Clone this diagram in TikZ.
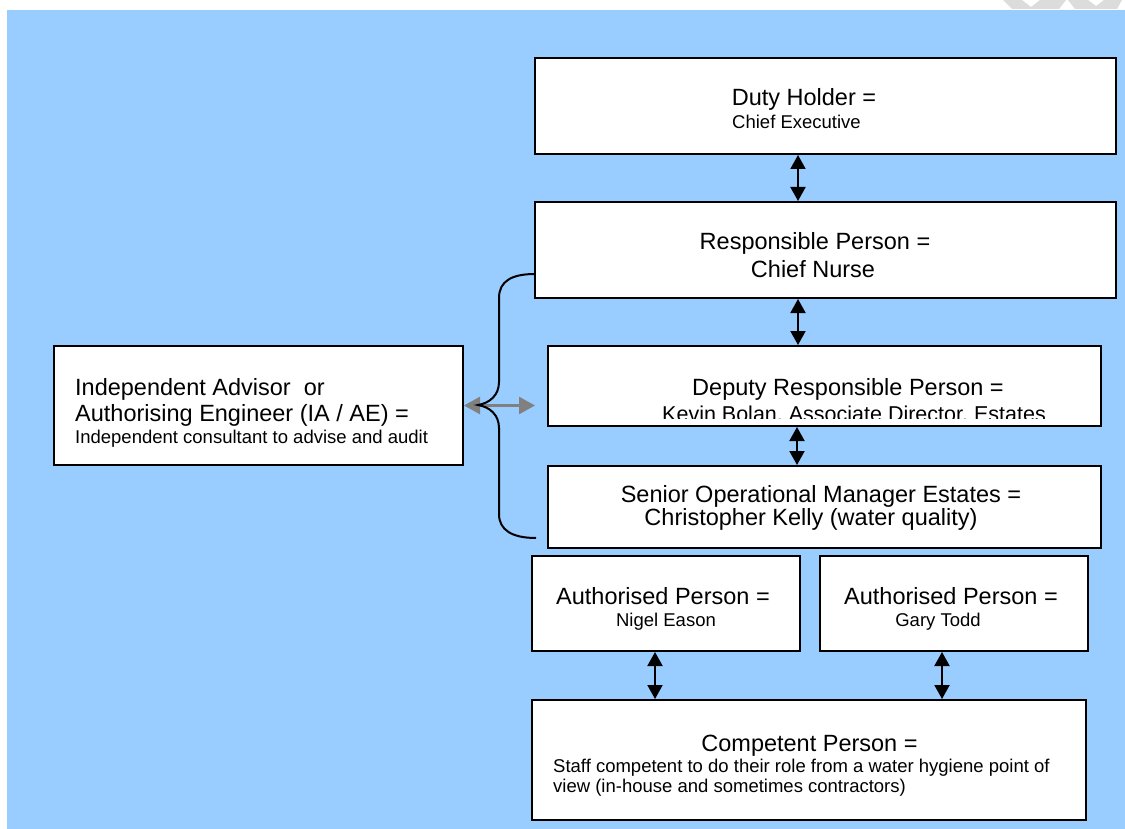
\documentclass[tikz,border=0pt]{standalone}
\usepackage{fontspec}
\setmainfont{Liberation Sans}
\usetikzlibrary{arrows.meta,calc}
\definecolor{bgblue}{HTML}{99CCFF}
\definecolor{wmgray}{HTML}{DCDCDC}
\definecolor{arrgray}{HTML}{808080}
\begin{document}
\begin{tikzpicture}[x=1pt,y=-1pt,
  box/.style={draw=black, line width=2pt, fill=white, rectangle, inner sep=0pt},
  big/.style={inner sep=0pt, anchor=base, font=\fontsize{23.5}{28}\selectfont},
  mid/.style={inner sep=0pt, anchor=base, font=\fontsize{21.5}{26}\selectfont},
  small/.style={inner sep=0pt, anchor=base, font=\fontsize{18.5}{22}\selectfont},
  smallleft/.style={inner sep=0pt, anchor=base west, font=\fontsize{18.5}{22}\selectfont},
  bigleft/.style={inner sep=0pt, anchor=base west, font=\fontsize{23.5}{28}\selectfont},
  dbl/.style={draw=black, line width=2pt, {Triangle[length=14pt,width=15pt]}-{Triangle[length=14pt,width=15pt]}},
  gdbl/.style={draw=arrgray, line width=2.5pt, {Triangle[length=16pt,width=17pt]}-{Triangle[length=16pt,width=17pt]}},
  brace/.style={draw=black, line width=2pt}]
\useasboundingbox (0,0) rectangle (1125,829);
\fill[white] (0,0) rectangle (1125,829);
\fill[bgblue] (7,10) rectangle (1125,829);
% watermark remnants
\fill[wmgray] (1003,0) -- (1022,0) -- (1031,7) -- (1040,0) -- (1066,0) -- (1059,9) -- (1012,9) -- cycle;
\fill[wmgray] (1068,0) -- (1088,0) -- (1096,6) -- (1104,0) -- (1122,0) -- (1117,9) -- (1075,9) -- cycle;

% boxes
\node[box, minimum width=581, minimum height=96] (duty) at (825.5,106) {};
\node[box, minimum width=581, minimum height=96] (resp) at (825.5,250) {};
\node[box, minimum width=553, minimum height=80] (dep) at (824.5,386) {};
\node[box, minimum width=553, minimum height=82] (sen) at (824.5,507) {};
\node[box, minimum width=268, minimum height=95] (aone) at (666,603.5) {};
\node[box, minimum width=268, minimum height=95] (atwo) at (954,603.5) {};
\node[box, minimum width=554, minimum height=120] (comp) at (809,760) {};
\node[box, minimum width=409, minimum height=119] (ia) at (258.5,405.5) {};

% texts
\node[big] (dutyA) at (804,106) {Duty Holder =};
\node[small] (dutyB) at (796.5,128.5) {Chief Executive};
\node[big] (respA) at (815,250) {Responsible Person =};
\node[big] (respB) at (813,277) {Chief Nurse};
\node[big] (depA) at (848,395) {Deputy Responsible Person =};
\begin{scope}
  \clip (548,346) rectangle (1101,418);
  \node[mid] (depB) at (854,421) {Kevin Bolan, Associate Director, Estates};
\end{scope}
\node[big] (senA) at (821,502) {Senior Operational Manager Estates =};
\node[big] (senB) at (811,525) {Christopher Kelly (water quality)};
\node[big] (aoneA) at (663,604) {Authorised Person =};
\node[small] (aoneB) at (666,626.5) {Nigel Eason};
\node[big] (atwoA) at (951,604) {Authorised Person =};
\node[small] (atwoB) at (938,626.5) {Gary Todd};
\node[big] (compA) at (809.5,751) {Competent Person =};
\node[smallleft] (compB) at (553,772.5) {Staff competent to do their role from a water hygiene point of};
\node[smallleft] (compC) at (553,792.5) {view (in-house and sometimes contractors)};
\node[bigleft] (iaA) at (75,395) {Independent Advisor\ \ or};
\node[bigleft] (iaB) at (75,421) {Authorising Engineer (IA / AE) =};
\node[smallleft] (iaC) at (75,443) {Independent consultant to advise and audit};

% vertical connectors
\draw[dbl] ($(duty.south)+(-27.5,0)$) -- ($(resp.north)+(-27.5,0)$);
\draw[dbl] ($(resp.south)+(-27.5,0)$) -- ($(dep.north)+(-26.5,0)$);
\draw[dbl] ($(dep.south)+(-27.5,0)$) -- ($(sen.north)+(-27.5,0)$);
\draw[dbl] ($(aone.south)+(-11,0)$) -- ($(comp.north)+(-154,0)$);
\draw[dbl] ($(atwo.south)+(-12,0)$) -- ($(comp.north)+(133,0)$);

% IA link
\coordinate (gtip) at (535,405.5);
\draw[gdbl] (ia.east) -- (gtip);

% brace
\draw[brace] (535,274) .. controls (512,274) and (499,281) .. (499,298)
  -- (499,382) .. controls (499,395) and (490,403) .. (478,405)
  .. controls (490,407) and (499,415) .. (499,428)
  -- (499,514) .. controls (499,530) and (512,538) .. (536,538);
\end{tikzpicture}
\end{document}
